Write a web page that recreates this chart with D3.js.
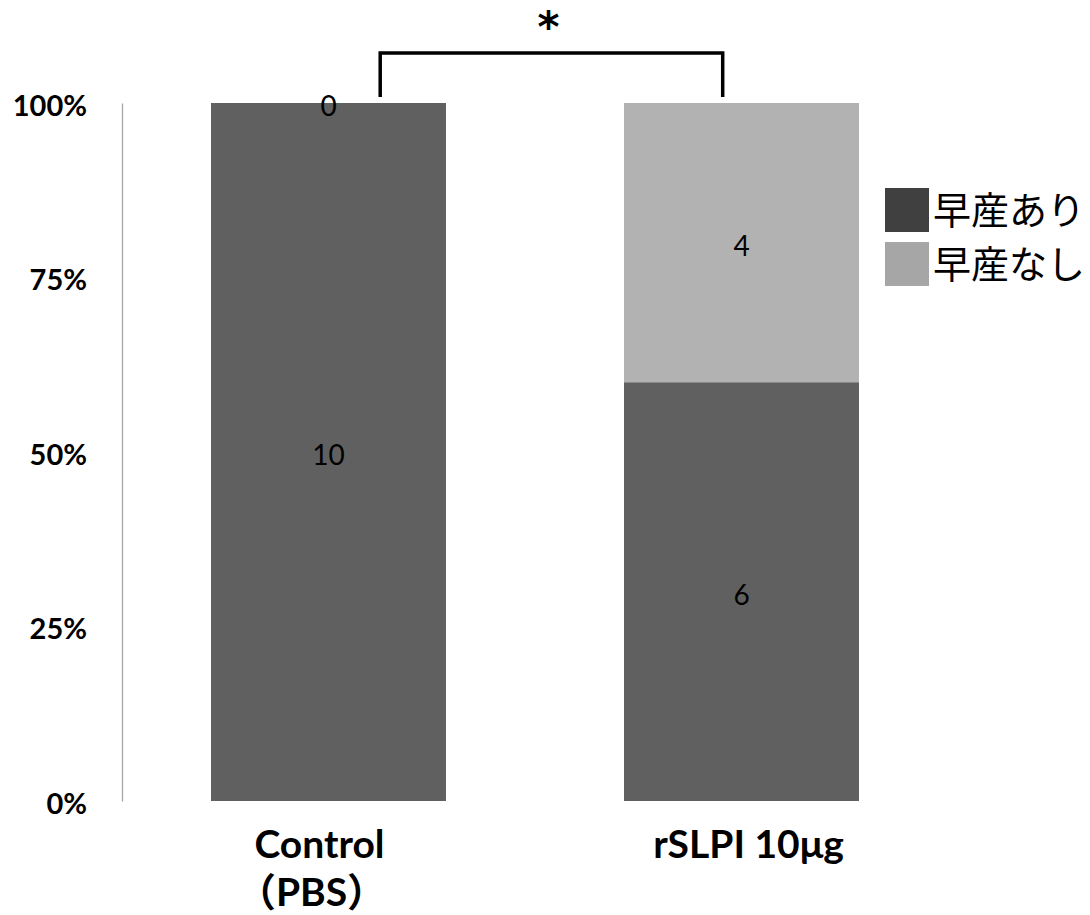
<!DOCTYPE html>
<html>
<head>
<meta charset="utf-8">
<script src="https://cdn.jsdelivr.net/npm/d3@7"></script>
<style>
  html, body { margin: 0; padding: 0; background: #fff; }
  svg { display: block; }
</style>
</head>
<body>
<div id="chart"></div>
<script>
// Preterm birth outcome per treatment group (counts, shown as 100% stacked bars)
const categories = ["Control", "rSLPI"];
const categoryLabels = [["Control", "（PBS）"], ["rSLPI 10μg"]];
const seriesNames = ["早産あり", "早産なし"];
const pretermCounts = [10, 6];      // 早産あり
const noPretermCounts = [0, 4];     // 早産なし
const tickValues = [0, 0.25, 0.5, 0.75, 1];
const tickLabels = ["0%", "25%", "50%", "75%", "100%"];
const significanceLabel = "*";

const W = 1090, H = 915;
const plot = { left: 122, right: 948, top: 103, bottom: 801 };
const barColors = ["#606060", "#b2b2b2"];
const legendColors = ["#404040", "#a6a6a6"];
const latinFont = "Lato, 'Noto Sans CJK JP', sans-serif";
const cjkFont = "'Noto Sans CJK JP', sans-serif";

const rows = categories.map((c, i) => ({
  category: c,
  [seriesNames[0]]: pretermCounts[i],
  [seriesNames[1]]: noPretermCounts[i]
}));

const stacked = d3.stack().keys(seriesNames).offset(d3.stackOffsetExpand)(rows);

const svg = d3.select("#chart").append("svg")
  .attr("width", W).attr("height", H);

const x = d3.scaleBand()
  .domain(categories)
  .range([plot.left, plot.right])
  .paddingInner(0.431)
  .paddingOuter(0.2155);

const y = d3.scaleLinear().domain([0, 1]).range([plot.bottom, plot.top]);

// Y axis: plain gray spine with bold percent labels
const yAxis = d3.axisLeft(y)
  .tickValues(tickValues)
  .tickFormat((d, i) => tickLabels[i])
  .tickSize(0)
  .tickPadding(35);

const yg = svg.append("g")
  .attr("transform", `translate(${plot.left},0)`)
  .call(yAxis);
yg.select(".domain").attr("stroke", "#a6a6a6").attr("stroke-width", 1.3);
yg.selectAll("text")
  .attr("font-family", latinFont)
  .attr("font-weight", "bold")
  .attr("font-size", 29)
  .attr("fill", "#000")
  .attr("dy", "0.42em");

// Stacked bars
const layers = svg.append("g").selectAll("g")
  .data(stacked)
  .join("g")
  .attr("fill", (d, i) => barColors[i]);

layers.selectAll("rect")
  .data(d => d)
  .join("rect")
  .attr("x", d => x(d.data.category))
  .attr("width", x.bandwidth())
  .attr("y", d => y(d[1]))
  .attr("height", d => y(d[0]) - y(d[1]));

// Count labels in the middle of each segment
stacked.forEach((layer, si) => {
  svg.append("g").selectAll("text")
    .data(layer)
    .join("text")
    .attr("x", d => x(d.data.category) + x.bandwidth() / 2)
    .attr("y", d => y((d[0] + d[1]) / 2))
    .attr("dy", "0.48em")
    .attr("text-anchor", "middle")
    .attr("font-family", latinFont)
    .attr("font-size", 28)
    .attr("fill", "#000")
    .text(d => d.data[layer.key]);
});

// Category labels under the bars
const labelOffsets = [[-9, -17], [7]];
categories.forEach((c, ci) => {
  categoryLabels[ci].forEach((line, li) => {
    svg.append("text")
      .attr("x", x(c) + x.bandwidth() / 2 + labelOffsets[ci][li])
      .attr("y", 858 + li * 48)
      .attr("text-anchor", "middle")
      .attr("font-family", latinFont)
      .attr("font-weight", "bold")
      .attr("font-size", 39)
      .attr("fill", "#000")
      .text(line);
  });
});

// Significance bracket between the two groups
const bx1 = x(categories[0]) + x.bandwidth() * 0.72;
const bx2 = x(categories[1]) + x.bandwidth() * 0.42;
const bTop = 53, bBottom = 97;
svg.append("path")
  .attr("d", `M${bx1},${bBottom}V${bTop}H${bx2}V${bBottom}`)
  .attr("fill", "none")
  .attr("stroke", "#000")
  .attr("stroke-width", 3.5);

svg.append("text")
  .attr("x", (bx1 + bx2) / 2 - 3)
  .attr("y", 42)
  .attr("text-anchor", "middle")
  .attr("font-family", "'DejaVu Sans', sans-serif")
  .attr("font-weight", "bold")
  .attr("font-size", 42)
  .attr("fill", "#000")
  .text(significanceLabel);

// Legend
const legend = svg.append("g").attr("transform", "translate(885,188)");
seriesNames.forEach((name, i) => {
  const g = legend.append("g").attr("transform", `translate(0,${i * 54})`);
  g.append("rect")
    .attr("width", 44).attr("height", 44)
    .attr("fill", legendColors[i]);
  g.append("text")
    .attr("x", 48)
    .attr("y", 22)
    .attr("dy", "0.36em")
    .attr("font-family", cjkFont)
    .attr("font-size", 38)
    .attr("fill", "#000")
    .text(name);
});
</script>
</body>
</html>
